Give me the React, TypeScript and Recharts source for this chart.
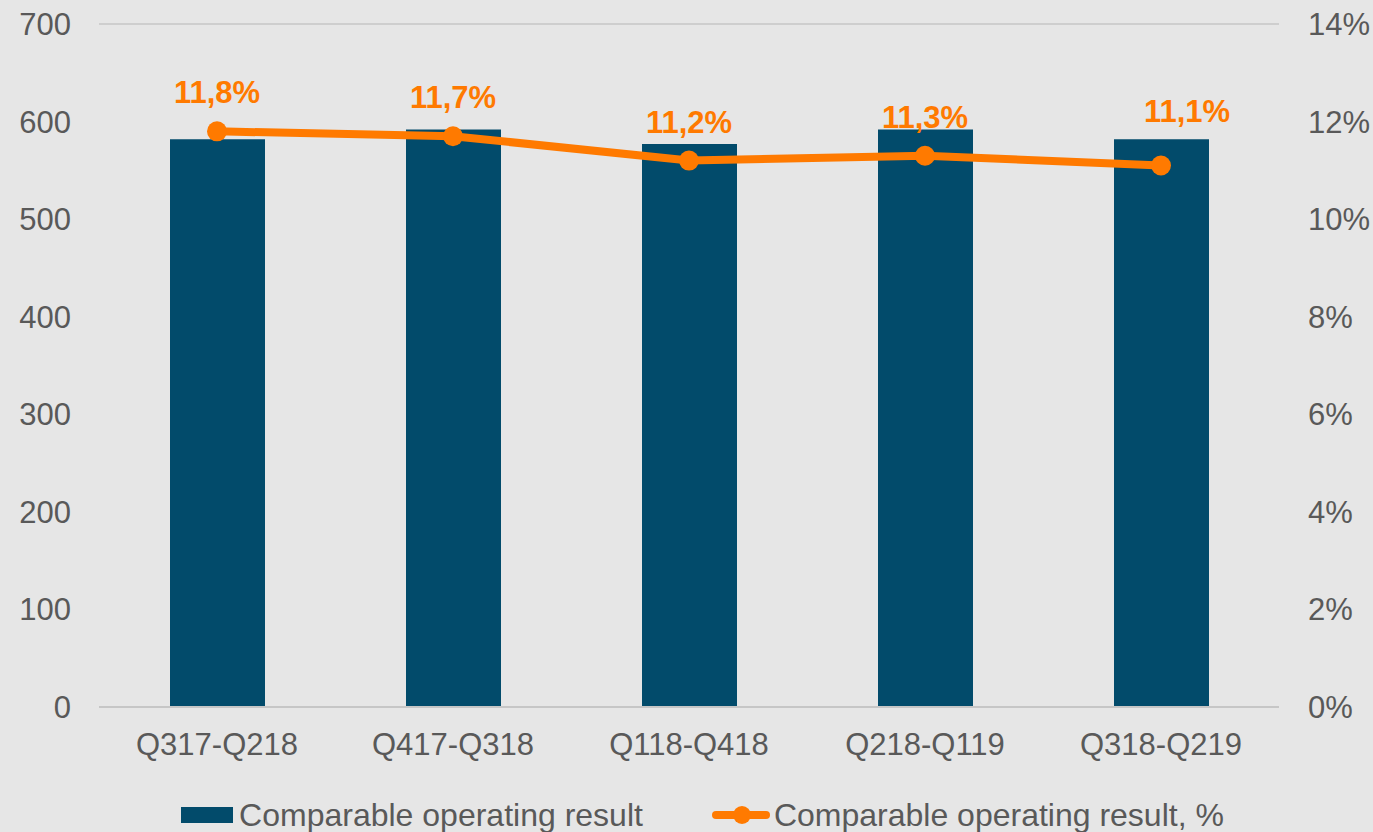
import {
  Bar,
  CartesianGrid,
  ComposedChart,
  LabelList,
  Legend,
  Line,
  XAxis,
  YAxis,
} from "recharts";

const periods = ["Q317-Q218", "Q417-Q318", "Q118-Q418", "Q218-Q119", "Q318-Q219"];
const operatingResult = [582, 592, 577, 592, 582];
const operatingResultPct = [11.8, 11.7, 11.2, 11.3, 11.1];
const leftTicks = [0, 100, 200, 300, 400, 500, 600, 700];
const rightTicks = [0, 2, 4, 6, 8, 10, 12, 14];

const data = periods.map((period, i) => ({
  period,
  result: operatingResult[i],
  pct: operatingResultPct[i],
}));

const FONT = '"Liberation Sans", Arial, sans-serif';
const BAR = "#024b6b";
const ORANGE = "#ff7a00";
const TEXT = "#595959";
const GRID = "#c6c6c6";

const tickStyle = { fill: TEXT, fontSize: 31, fontFamily: FONT };

function PctLabel(props: any) {
  const { x, y, value, index } = props;
  // last label sits a bit higher and to the right in the original
  const last = index === operatingResultPct.length - 1;
  return (
    <text
      x={x + (last ? 26 : 0)}
      y={y - (last ? 43 : 28)}
      textAnchor="middle"
      fill={ORANGE}
      fontFamily={FONT}
      fontSize={31}
      fontWeight="bold"
    >
      {Number(value).toFixed(1).replace(".", ",")}%
    </text>
  );
}

function ChartLegend() {
  return (
    <div
      style={{
        height: 40,
        display: "flex",
        alignItems: "center",
        justifyContent: "center",
        paddingLeft: 32,
        paddingTop: 6,
        boxSizing: "border-box",
        fontFamily: FONT,
        fontSize: 32,
        color: TEXT,
        lineHeight: "34px",
        whiteSpace: "nowrap",
      }}
    >
      <span style={{ display: "inline-block", width: 52, height: 16, background: BAR, marginRight: 6 }} />
      <span>Comparable operating result</span>
      <svg width={58} height={20} style={{ marginLeft: 69, marginRight: 4 }}>
        <line x1={4} y1={10} x2={54} y2={10} stroke={ORANGE} strokeWidth={8} strokeLinecap="round" />
        <circle cx={30} cy={10} r={9} fill={ORANGE} />
      </svg>
      <span>Comparable operating result, %</span>
    </div>
  );
}

export default function App() {
  return (
    <div
      style={{
        position: "fixed",
        left: 0,
        top: 0,
        width: 1373,
        height: 832,
        background: "#e6e6e6",
        overflow: "hidden",
      }}
    >
      <ComposedChart
        width={1373}
        height={832}
        data={data}
        margin={{ top: 24, right: 0, bottom: 0, left: 0 }}
      >
        <CartesianGrid vertical={false} stroke={GRID} strokeWidth={1.5} />
        <XAxis
          dataKey="period"
          height={85}
          tick={tickStyle}
          tickLine={false}
          tickMargin={20}
          axisLine={{ stroke: GRID, strokeWidth: 2 }}
        />
        <YAxis
          yAxisId="left"
          domain={[0, 700]}
          ticks={leftTicks}
          width={99}
          tick={tickStyle}
          tickLine={false}
          axisLine={false}
          tickMargin={22}
          interval={0}
        />
        <YAxis
          yAxisId="right"
          orientation="right"
          domain={[0, 14]}
          ticks={rightTicks}
          tickFormatter={(v: number) => `${v}%`}
          width={94}
          tick={{ ...tickStyle, textAnchor: "start" }}
          tickLine={false}
          axisLine={false}
          tickMargin={23}
          interval={0}
        />
        <Legend
          verticalAlign="bottom"
          content={<ChartLegend />}
          wrapperStyle={{ left: 0, width: 1373, bottom: 0 }}
        />
        <Bar
          yAxisId="left"
          dataKey="result"
          name="Comparable operating result"
          fill={BAR}
          barSize={95}
          isAnimationActive={false}
        />
        <Line
          yAxisId="right"
          dataKey="pct"
          name="Comparable operating result, %"
          stroke={ORANGE}
          strokeWidth={8}
          dot={{ r: 10, fill: ORANGE, stroke: "none" }}
          activeDot={false}
          isAnimationActive={false}
        >
          <LabelList dataKey="pct" content={<PctLabel />} />
        </Line>
      </ComposedChart>
    </div>
  );
}
